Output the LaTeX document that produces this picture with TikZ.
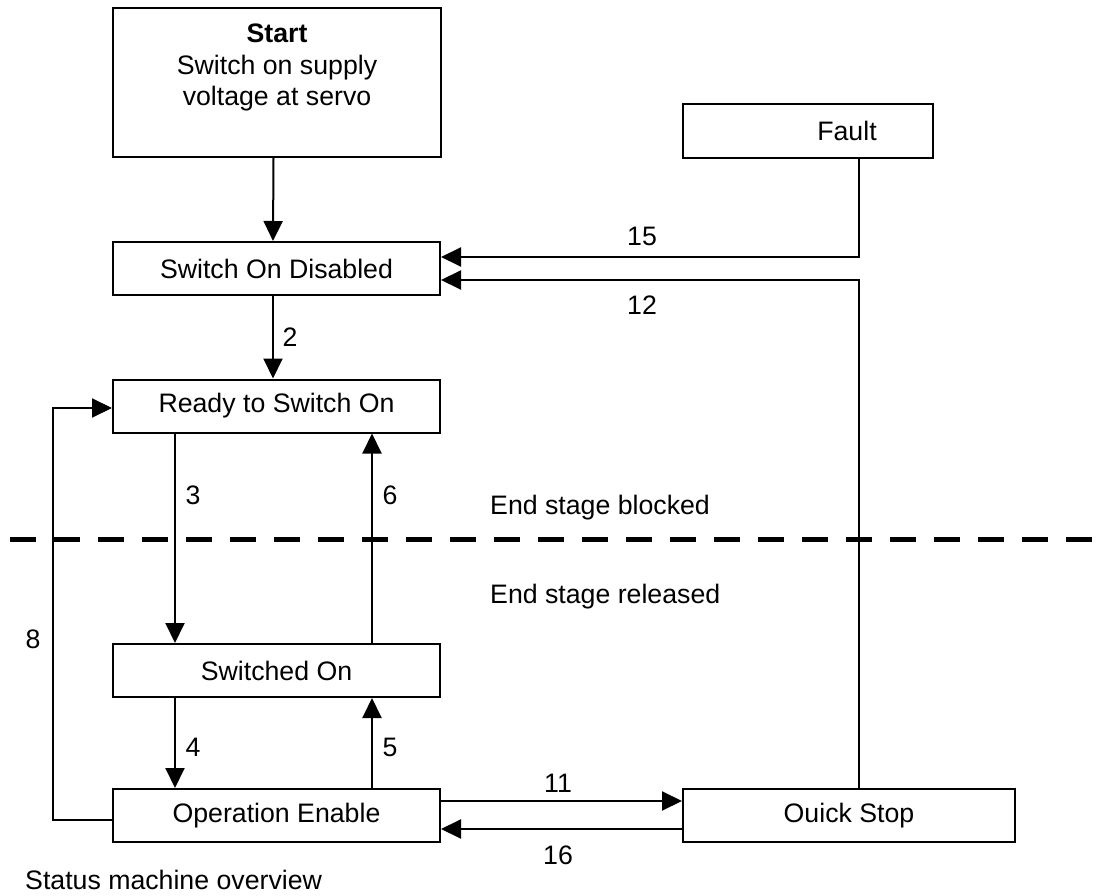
\documentclass[tikz,border=0pt]{standalone}
\usepackage{fontspec}
\setmainfont{Liberation Sans}
\usetikzlibrary{arrows.meta}
\begin{document}
\begin{tikzpicture}[x=1pt,y=-1pt, font=\fontsize{26.7}{31.5}\selectfont,
  box/.style={draw, line width=2pt, inner sep=0pt, minimum width=327pt, minimum height=53pt},
  conn/.style={line width=2pt, -{Triangle[length=20pt,width=19pt]}},
  plain/.style={line width=2pt},
  lbl/.style={inner sep=0pt},
  divider/.style={line width=5pt, dash pattern=on 26pt off 18pt}]
\useasboundingbox (0,0) rectangle (1104,896);

% states
\node[box, minimum width=328pt, minimum height=149pt] (start) at (277,82.5) {};
\node[lbl, anchor=north, align=center] (starttext) at (277,24) {\textbf{Start}\\Switch on supply\\voltage at servo};
\node[box, minimum width=250pt, minimum height=54pt] (fault) at (808,131) {\hspace*{78pt}Fault};
\node[box] (sod) at (276.5,268.5) {Switch On Disabled};
\node[box] (rso) at (276.5,406) {Ready to Switch On};
\node[box] (so) at (276.5,670.5) {Switched On};
\node[box] (oe) at (276.5,815.5) {Operation Enable};
\node[box, minimum width=332pt] (qs) at (849,815.5) {Ouick Stop};

% divider
\coordinate (dl) at (10,539);
\coordinate (dr) at (1104,539);
\draw[divider] (dl) -- (dr);
\node[lbl, anchor=base west] (blocked) at (490,514) {End stage blocked};
\node[lbl, anchor=base west] (released) at (490,603) {End stage released};

% transitions
\draw[conn] ([xshift=-3.5pt]start.south) -- ([xshift=-3.5pt]sod.north);
\draw[conn] ([xshift=-3.5pt]sod.south) -- ([xshift=-3.5pt]rso.north);
\draw[conn] ([xshift=-101.5pt]rso.south) -- ([xshift=-101.5pt]so.north);
\draw[conn] ([xshift=95.5pt]so.north) -- ([xshift=95.5pt]rso.south);
\draw[conn] ([xshift=-101.5pt]so.south) -- ([xshift=-101.5pt]oe.north);
\draw[conn] ([xshift=95.5pt]oe.north) -- ([xshift=95.5pt]so.south);
\coordinate (c8) at (53,600);
\draw[conn] ([yshift=-4.5pt]oe.west) -| (c8) |- ([yshift=-2pt]rso.west);
\draw[conn] ([yshift=14.5pt]oe.east) -- ([yshift=14.5pt]qs.west);
\draw[conn] ([yshift=-13.5pt]qs.west) -- ([yshift=-13.5pt]oe.east);
\draw[conn] ([xshift=51pt]fault.south) |- ([yshift=11.5pt]sod.east);
\draw[conn] ([xshift=10pt]qs.north) |- ([yshift=-11.5pt]sod.east);

% labels
\node[lbl] (l15) at (642,236) {15};
\node[lbl] (l12) at (642,305) {12};
\node[lbl] (l2) at (290,337) {2};
\node[lbl] (l3) at (193,495) {3};
\node[lbl] (l6) at (390,495) {6};
\node[lbl] (l8) at (33,639) {8};
\node[lbl] (l4) at (193,747) {4};
\node[lbl] (l5) at (390,747) {5};
\node[lbl] (l11) at (558,783) {11};
\node[lbl] (l16) at (558,855) {16};
\node[lbl, anchor=base west] (caption) at (25,889) {Status machine overview};
\end{tikzpicture}
\end{document}
